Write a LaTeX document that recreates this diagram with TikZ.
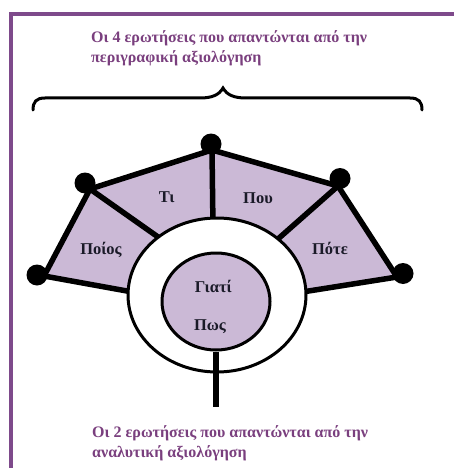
\documentclass[tikz,border=0pt]{standalone}
\usepackage{fontspec}
\setmainfont{Liberation Serif}
\usetikzlibrary{shapes.geometric}
\definecolor{lav}{HTML}{CBB9D6}
\definecolor{purp}{HTML}{7A3F7E}
\definecolor{framec}{HTML}{7E4A8B}
\definecolor{ink}{HTML}{1A1A28}
\begin{document}
\begin{tikzpicture}[x=1pt,y=-1pt,
  edge/.style={line width=5.5pt, line join=round},
  dotn/.style={circle, fill=black, inner sep=0pt, minimum size=21pt},
  lbl/.style={font=\fontsize{16.5}{16.5}\selectfont\bfseries, text=ink, inner sep=0pt},
  capt/.style={font=\fontsize{16}{20}\selectfont\bfseries, text=purp, align=left, anchor=base west, inner sep=0pt}]
\useasboundingbox (0,0) rectangle (453,468);
\fill[white] (0,0) rectangle (453,468);
% frame
\draw[framec, line width=4pt] (10.5,470) -- (10.5,14.5) -- (455,14.5);
% captions (anchor = baseline of last line)
\node[capt] (topcap) at (91,63) {Οι 4 ερωτήσεις που απαντώνται από την\\περιγραφική αξιολόγηση};
\node[capt] (botcap) at (92,457) {Οι 2 ερωτήσεις που απαντώνται από την\\αναλυτική αξιολόγηση};
% brace
\draw[black, line width=3pt, line cap=round]
  (33,110) .. controls (33,102) and (36,98) .. (45,98) -- (200,98)
  .. controls (212,98) and (219,95) .. (223,88)
  .. controls (227,95) and (234,98) .. (246,98) -- (410,98)
  .. controls (419,98) and (422,102) .. (422,110);
% polygon vertices
\coordinate (vL) at (44,276);
\coordinate (vUL) at (90,189);
\coordinate (vT) at (212,150);
\coordinate (vUR) at (338,186);
\coordinate (vR) at (397,277);
\coordinate (bL) at (138,293);
\coordinate (bR) at (296,293);
\coordinate (sUL) at (168,244);
\coordinate (sT) at (213,228);
\coordinate (sUR) at (270,246);
\fill[lav] (bL) -- (vL) -- (vUL) -- (vT) -- (vUR) -- (vR) -- (bR) -- cycle;
\draw[edge] (vUL) -- (sUL);
\draw[edge] (vT) -- (sT);
\draw[edge] (vUR) -- (sUR);
\draw[edge] (bL) -- (vL) -- (vUL) -- (vT) -- (vUR) -- (vR) -- (bR);
% ring and core
\node[ellipse, draw, fill=white, line width=3pt, minimum width=178pt, minimum height=154pt, inner sep=0pt] (ring) at (217,295) {};
\node[ellipse, draw, fill=lav, line width=3pt, minimum width=108pt, minimum height=97pt, inner sep=0pt] (core) at (216,301.5) {};
\coordinate (stemend) at (216,407);
\draw[line width=5.5pt] (core.south) -- (stemend);
% dots
\node[dotn] (d1) at (37,275) {};
\node[dotn] (d2) at (85,183) {};
\node[dotn] (d3) at (211,144) {};
\node[dotn] (d4) at (340,178.5) {};
\node[dotn] (d5) at (403,273.5) {};
% labels
\node[lbl] (ti) at (166.7,196.7) {Τι};
\node[lbl] (pou) at (258,198.3) {Που};
\node[lbl] (poios) at (101,250) {Ποίος};
\node[lbl] (pote) at (330,248.5) {Πότε};
\node[lbl] (giati) at (213.3,286.7) {Γιατί};
\node[lbl] (pos) at (210,326.7) {Πως};
\end{tikzpicture}
\end{document}
